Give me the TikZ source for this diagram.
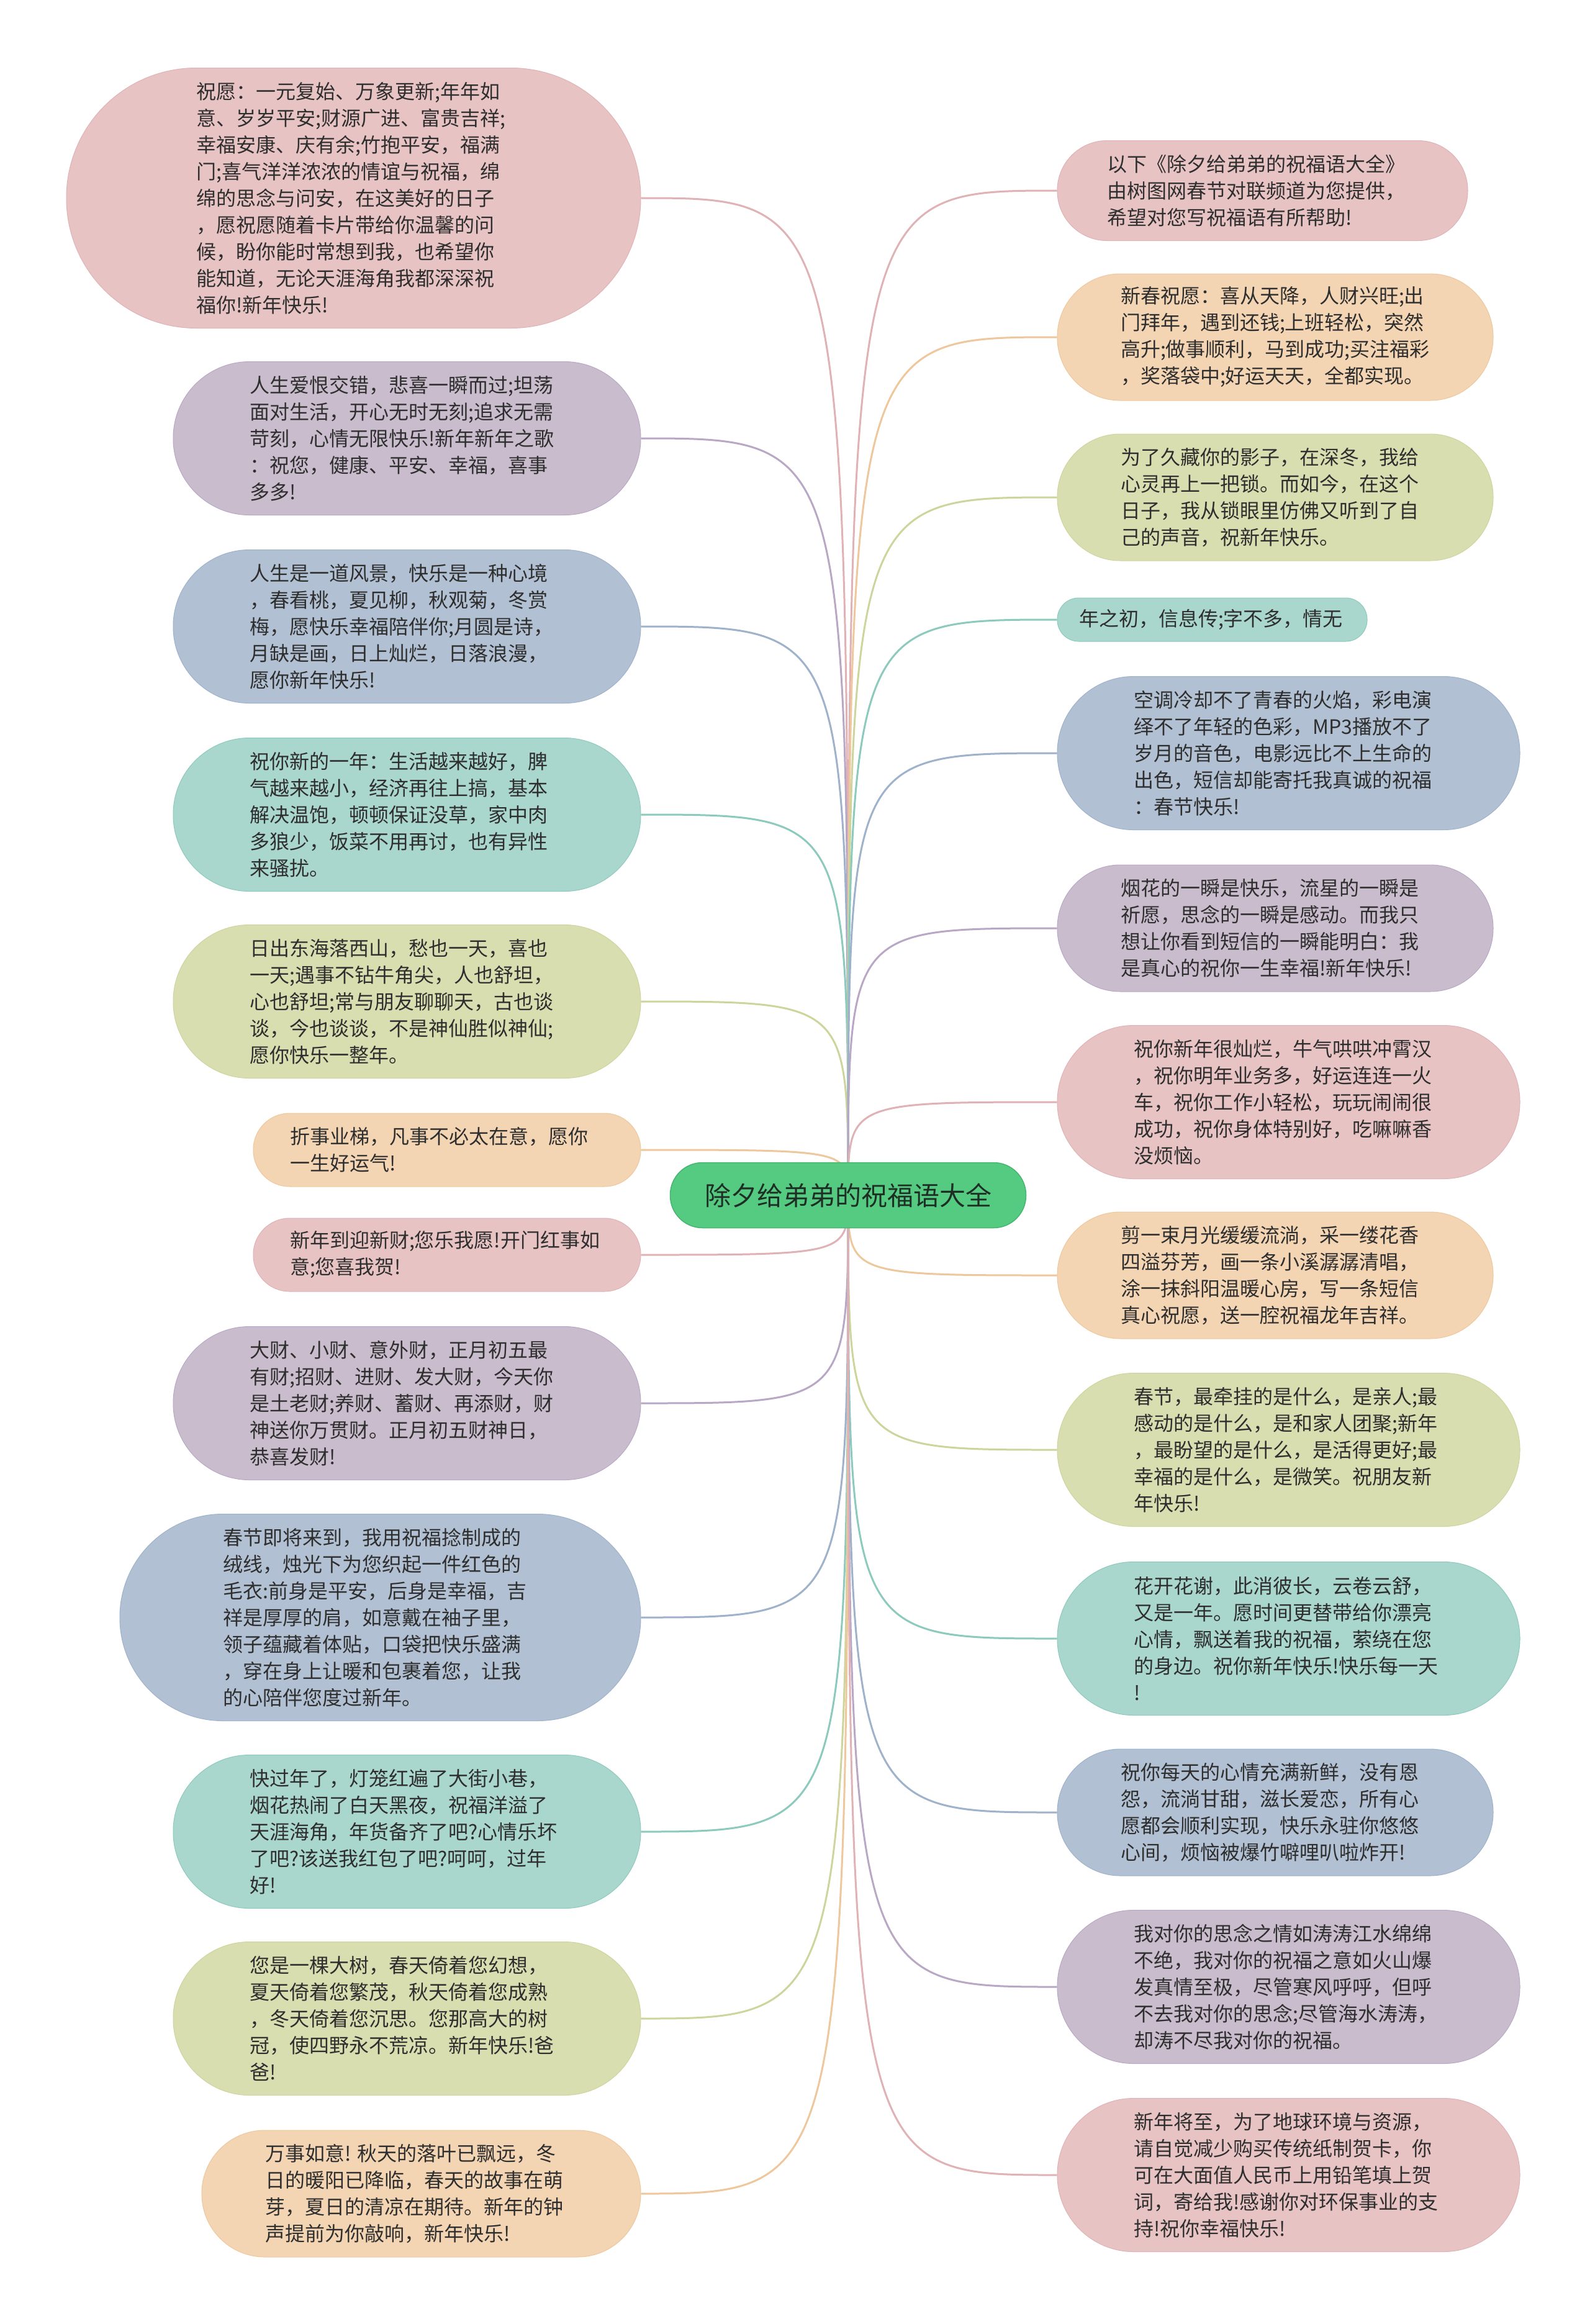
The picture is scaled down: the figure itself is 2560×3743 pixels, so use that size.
\documentclass[tikz,border=0pt]{standalone}
\usepackage{fontspec}
\newfontfamily\cjk{Noto Sans CJK SC}
\usetikzlibrary{backgrounds}
\definecolor{fpink}{HTML}{E8C3C4}
\definecolor{lpink}{HTML}{E0B2B6}
\definecolor{fpurple}{HTML}{C9BCCD}
\definecolor{lpurple}{HTML}{B9A8C5}
\definecolor{fblue}{HTML}{B1C0D2}
\definecolor{lblue}{HTML}{9EB2CB}
\definecolor{fteal}{HTML}{A9D6CD}
\definecolor{lteal}{HTML}{8CCABD}
\definecolor{folive}{HTML}{D9DEB0}
\definecolor{lolive}{HTML}{CDD59C}
\definecolor{fpeach}{HTML}{F3D5B4}
\definecolor{lpeach}{HTML}{EEC79C}
\definecolor{rootfill}{HTML}{55CB81}
\definecolor{rootline}{HTML}{46B570}
\definecolor{textc}{HTML}{2E2E2E}
\definecolor{roottext}{HTML}{1F2E25}
\tikzset{
  leaf/.style={font={\cjk\fontsize{32}{43}\selectfont}, text=textc, inner sep=0pt,
    align=left, fill=f#1, draw=l#1, line width=1pt},
  sz/.code 2 args={\pgfmathsetmacro\mytw{#1-#2}\pgfmathsetmacro\myrr{#2/2-0.5}%
    \edef\mysztmp{\noexpand\tikzset{minimum width=#1pt,minimum height=#2pt,text width=\mytw pt,rounded corners=\myrr pt}}\mysztmp},
  conn/.style={draw=l#1, line width=3pt},
}
\begin{document}
\begin{tikzpicture}[x=1pt,y=-1pt]
\path[use as bounding box] (0,0) rectangle (2560,3743);
% root
\node[font={\cjk\fontsize{42}{50}\selectfont}, text=roottext, fill=rootfill, draw=rootline, line width=1.5pt,
  minimum width=573pt, minimum height=105pt, rounded corners=52pt, inner sep=0pt] (root) at (1366,1925) {除夕给弟弟的祝福语大全};
% left nodes
\node[leaf=pink, sz={925}{419}] (L1) at (569.5,319) {祝愿：一元复始、万象更新;年年如\\意、岁岁平安;财源广进、富贵吉祥;\\幸福安康、庆有余;竹抱平安，福满\\门;喜气洋洋浓浓的情谊与祝福，绵\\绵的思念与问安，在这美好的日子\\，愿祝愿随着卡片带给你温馨的问\\候，盼你能时常想到我，也希望你\\能知道，无论天涯海角我都深深祝\\福你!新年快乐!};
\node[leaf=purple, sz={753}{247}] (L2) at (655.5,706) {人生爱恨交错，悲喜一瞬而过;坦荡\\面对生活，开心无时无刻;追求无需\\苛刻，心情无限快乐!新年新年之歌\\：祝您，健康、平安、幸福，喜事\\多多!};
\node[leaf=blue, sz={753}{247}] (L3) at (655.5,1009) {人生是一道风景，快乐是一种心境\\，春看桃，夏见柳，秋观菊，冬赏\\梅，愿快乐幸福陪伴你;月圆是诗，\\月缺是画，日上灿烂，日落浪漫，\\愿你新年快乐!};
\node[leaf=teal, sz={753}{247}] (L4) at (655.5,1312) {祝你新的一年：生活越来越好，脾\\气越来越小，经济再往上搞，基本\\解决温饱，顿顿保证没草，家中肉\\多狼少，饭菜不用再讨，也有异性\\来骚扰。};
\node[leaf=olive, sz={753}{247}] (L5) at (655.5,1613) {日出东海落西山，愁也一天，喜也\\一天;遇事不钻牛角尖，人也舒坦，\\心也舒坦;常与朋友聊聊天，古也谈\\谈，今也谈谈，不是神仙胜似神仙;\\愿你快乐一整年。};
\node[leaf=peach, sz={624}{118}] (L6) at (720,1852) {折事业梯，凡事不必太在意，愿你\\一生好运气!};
\node[leaf=pink, sz={624}{118}] (L7) at (720,2021) {新年到迎新财;您乐我愿!开门红事如\\意;您喜我贺!};
\node[leaf=purple, sz={753}{247}] (L8) at (655.5,2260) {大财、小财、意外财，正月初五最\\有财;招财、进财、发大财，今天你\\是土老财;养财、蓄财、再添财，财\\神送你万贯财。正月初五财神日，\\恭喜发财!};
\node[leaf=blue, sz={839}{333}] (L9) at (612.5,2605) {春节即将来到，我用祝福捻制成的\\绒线，烛光下为您织起一件红色的\\毛衣:前身是平安，后身是幸福，吉\\祥是厚厚的肩，如意戴在袖子里，\\领子蕴藏着体贴，口袋把快乐盛满\\，穿在身上让暖和包裹着您，让我\\的心陪伴您度过新年。};
\node[leaf=teal, sz={753}{247}] (L10) at (655.5,2950) {快过年了，灯笼红遍了大街小巷，\\烟花热闹了白天黑夜，祝福洋溢了\\天涯海角，年货备齐了吧?心情乐坏\\了吧?该送我红包了吧?呵呵，过年\\好!};
\node[leaf=olive, sz={753}{247}] (L11) at (655.5,3251) {您是一棵大树，春天倚着您幻想，\\夏天倚着您繁茂，秋天倚着您成熟\\，冬天倚着您沉思。您那高大的树\\冠，使四野永不荒凉。新年快乐!爸\\爸!};
\node[leaf=peach, sz={707}{204}] (L12) at (678.5,3533) {万事如意!~秋天的落叶已飘远，冬\\日的暖阳已降临，春天的故事在萌\\芽，夏日的清凉在期待。新年的钟\\声提前为你敲响，新年快乐!};
% right nodes
\node[leaf=pink, sz={661}{161}] (R1) at (2033.5,307) {以下《除夕给弟弟的祝福语大全》\\由树图网春节对联频道为您提供，\\希望对您写祝福语有所帮助!};
\node[leaf=peach, sz={702}{204}] (R2) at (2054,543) {新春祝愿：喜从天降，人财兴旺;出\\门拜年，遇到还钱;上班轻松，突然\\高升;做事顺利，马到成功;买注福彩\\，奖落袋中;好运天天，全都实现。};
\node[leaf=olive, sz={702}{204}] (R3) at (2054,801) {为了久藏你的影子，在深冬，我给\\心灵再上一把锁。而如今，在这个\\日子，我从锁眼里仿佛又听到了自\\己的声音，祝新年快乐。};
\node[leaf=teal, sz={499}{70}] (R4) at (1952.5,998) {年之初，信息传;字不多，情无};
\node[leaf=blue, sz={745}{247}] (R5) at (2075.5,1213) {空调冷却不了青春的火焰，彩电演\\绎不了年轻的色彩，MP3播放不了\\岁月的音色，电影远比不上生命的\\出色，短信却能寄托我真诚的祝福\\：春节快乐!};
\node[leaf=purple, sz={702}{204}] (R6) at (2054,1495) {烟花的一瞬是快乐，流星的一瞬是\\祈愿，思念的一瞬是感动。而我只\\想让你看到短信的一瞬能明白：我\\是真心的祝你一生幸福!新年快乐!};
\node[leaf=pink, sz={745}{247}] (R7) at (2075.5,1775) {祝你新年很灿烂，牛气哄哄冲霄汉\\，祝你明年业务多，好运连连一火\\车，祝你工作小轻松，玩玩闹闹很\\成功，祝你身体特别好，吃嘛嘛香\\没烦恼。};
\node[leaf=peach, sz={702}{204}] (R8) at (2054,2054) {剪一束月光缓缓流淌，采一缕花香\\四溢芬芳，画一条小溪潺潺清唱，\\涂一抹斜阳温暖心房，写一条短信\\真心祝愿，送一腔祝福龙年吉祥。};
\node[leaf=olive, sz={745}{247}] (R9) at (2075.5,2335) {春节，最牵挂的是什么，是亲人;最\\感动的是什么，是和家人团聚;新年\\，最盼望的是什么，是活得更好;最\\幸福的是什么，是微笑。祝朋友新\\年快乐!};
\node[leaf=teal, sz={745}{247}] (R10) at (2075.5,2639) {花开花谢，此消彼长，云卷云舒，\\又是一年。愿时间更替带给你漂亮\\心情，飘送着我的祝福，萦绕在您\\的身边。祝你新年快乐!快乐每一天\\!};
\node[leaf=blue, sz={702}{204}] (R11) at (2054,2919) {祝你每天的心情充满新鲜，没有恩\\怨，流淌甘甜，滋长爱恋，所有心\\愿都会顺利实现，快乐永驻你悠悠\\心间，烦恼被爆竹噼哩叭啦炸开!};
\node[leaf=purple, sz={745}{247}] (R12) at (2075.5,3200) {我对你的思念之情如涛涛江水绵绵\\不绝，我对你的祝福之意如火山爆\\发真情至极，尽管寒风呼呼，但呼\\不去我对你的思念;尽管海水涛涛，\\却涛不尽我对你的祝福。};
\node[leaf=pink, sz={745}{247}] (R13) at (2075.5,3503) {新年将至，为了地球环境与资源，\\请自觉减少购买传统纸制贺卡，你\\可在大面值人民币上用铅笔填上贺\\词，寄给我!感谢你对环保事业的支\\持!祝你幸福快乐!};
\begin{pgfonlayer}{background}
\fill[white] (0,0) rectangle (2560,3743);
\foreach \n/\c in {L1/pink,L2/purple,L3/blue,L4/teal,L5/olive,L6/peach,L7/pink,L8/purple,L9/blue,L10/teal,L11/olive,L12/peach}
  \draw[conn=\c] (root.center) .. controls (root.center |- \n.east) .. (\n.east);
\foreach \n/\c in {R1/pink,R2/peach,R3/olive,R4/teal,R5/blue,R6/purple,R7/pink,R8/peach,R9/olive,R10/teal,R11/blue,R12/purple,R13/pink}
  \draw[conn=\c] (root.center) .. controls (root.center |- \n.west) .. (\n.west);
\end{pgfonlayer}
\end{tikzpicture}
\end{document}
